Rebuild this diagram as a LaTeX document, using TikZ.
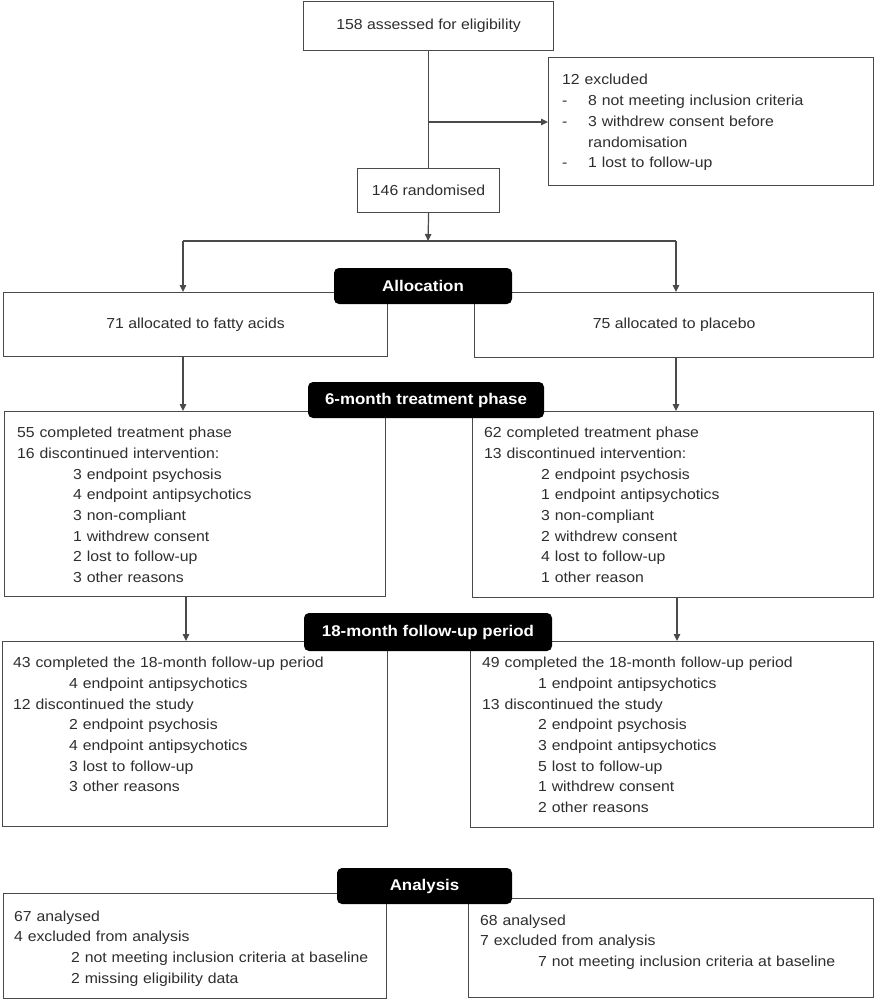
\documentclass[tikz,border=0pt]{standalone}
\usepackage{fontspec}
\setmainfont{Liberation Sans}[FakeStretch=1.09]
\usetikzlibrary{arrows.meta}
\definecolor{linec}{HTML}{4A4A4A}
\definecolor{textc}{HTML}{2E2E2E}
\begin{document}
\begin{tikzpicture}[x=1pt,y=-1pt,
  every node/.style={text=textc},
  box/.style={draw=linec, line width=1.2pt, fill=white, inner sep=0pt, anchor=north west,
    font=\fontsize{14.5}{20.7}\selectfont},
  lbl/.style={fill=black, text=white, rounded corners=5pt, inner sep=0pt,
    font=\bfseries\fontsize{15.5}{18}\selectfont},
  txt/.style={anchor=base west, inner sep=0pt, align=left, text width=390pt,
    font=\fontsize{14.5}{20.7}\selectfont},
  conn/.style={draw=linec, line width=1.2pt},
  arr/.style={conn, -{Triangle[length=7pt,width=6.5pt]}}
]
\useasboundingbox (0,0) rectangle (874,1000);

% top part
\node[box, minimum width=250pt, minimum height=49pt] (top) at (303,1) {158 assessed for eligibility};
\node[box, minimum width=325pt, minimum height=128pt] (excl) at (548,57) {};
\node[txt] (excltxt) at (562,85) {12 excluded\\
\makebox[26pt][l]{-}8 not meeting inclusion criteria\\
\makebox[26pt][l]{-}3 withdrew consent before\\
\hspace*{26pt}randomisation\\
\makebox[26pt][l]{-}1 lost to follow-up};
\node[box, minimum width=142pt, minimum height=44pt] (rand) at (357,168) {146 randomised};

\coordinate (jx) at (428,122);
\coordinate (split) at (428,241);
\coordinate (sl) at (183,241);
\coordinate (sr) at (676,241);
\draw[conn] (top.south) -- (rand.north);
\draw[arr] (jx) -- (excl.west |- jx);
\draw[arr] (rand.south) -- (split);
\draw[conn] (sl) -- (sr);

% allocation
\node[box, minimum width=384pt, minimum height=64pt] (L1) at (3,292) {71 allocated to fatty acids};
\node[box, minimum width=399pt, minimum height=65pt] (R1) at (474,292) {75 allocated to placebo};
\draw[arr] (sl) -- (sl |- L1.north);
\draw[arr] (sr) -- (sr |- R1.north);
\node[lbl, minimum width=178pt, minimum height=36pt] (alloc) at (423,286) {Allocation};

% 6-month
\node[box, minimum width=381pt, minimum height=185pt] (L2) at (4,411) {};
\node[box, minimum width=401pt, minimum height=186pt] (R2) at (472,411) {};
\coordinate (a1) at (183,356);
\coordinate (a2) at (676,357);
\draw[arr] (a1) -- (a1 |- L2.north);
\draw[arr] (a2) -- (a2 |- R2.north);
\node[lbl, minimum width=236pt, minimum height=36pt] (six) at (426,400) {6-month treatment phase};
\node[txt] (L2t) at (17,437.7) {55 completed treatment phase\\
16 discontinued intervention:\\
\hspace*{56pt}3 endpoint psychosis\\
\hspace*{56pt}4 endpoint antipsychotics\\
\hspace*{56pt}3 non-compliant\\
\hspace*{56pt}1 withdrew consent\\
\hspace*{56pt}2 lost to follow-up\\
\hspace*{56pt}3 other reasons};
\node[txt] (R2t) at (484,437.7) {62 completed treatment phase\\
13 discontinued intervention:\\
\hspace*{57pt}2 endpoint psychosis\\
\hspace*{57pt}1 endpoint antipsychotics\\
\hspace*{57pt}3 non-compliant\\
\hspace*{57pt}2 withdrew consent\\
\hspace*{57pt}4 lost to follow-up\\
\hspace*{57pt}1 other reason};

% 18-month
\node[box, minimum width=385pt, minimum height=185pt] (L3) at (2,641) {};
\node[box, minimum width=403pt, minimum height=186pt] (R3) at (470,641) {};
\coordinate (b1) at (186,596);
\coordinate (b2) at (677,597);
\draw[arr] (b1) -- (b1 |- L3.north);
\draw[arr] (b2) -- (b2 |- R3.north);
\node[lbl, minimum width=248pt, minimum height=38pt] (eighteen) at (428,632) {18-month follow-up period};
\node[txt] (L3t) at (13,667.7) {43 completed the 18-month follow-up period\\
\hspace*{56pt}4 endpoint antipsychotics\\
12 discontinued the study\\
\hspace*{56pt}2 endpoint psychosis\\
\hspace*{56pt}4 endpoint antipsychotics\\
\hspace*{56pt}3 lost to follow-up\\
\hspace*{56pt}3 other reasons};
\node[txt] (R3t) at (482,667.7) {49 completed the 18-month follow-up period\\
\hspace*{56pt}1 endpoint antipsychotics\\
13 discontinued the study\\
\hspace*{56pt}2 endpoint psychosis\\
\hspace*{56pt}3 endpoint antipsychotics\\
\hspace*{56pt}5 lost to follow-up\\
\hspace*{56pt}1 withdrew consent\\
\hspace*{56pt}2 other reasons};

% analysis
\node[box, minimum width=383pt, minimum height=105pt] (L4) at (3,893) {};
\node[box, minimum width=405pt, minimum height=99pt] (R4) at (468,898) {};
\node[lbl, minimum width=175pt, minimum height=36pt] (analysis) at (424.5,886) {Analysis};
\node[txt] (L4t) at (14,921) {67 analysed\\
4 excluded from analysis\\
\hspace*{57pt}2 not meeting inclusion criteria at baseline\\
\hspace*{57pt}2 missing eligibility data};
\node[txt] (R4t) at (480,925) {68 analysed\\
7 excluded from analysis\\
\hspace*{58pt}7 not meeting inclusion criteria at baseline};
\end{tikzpicture}
\end{document}
